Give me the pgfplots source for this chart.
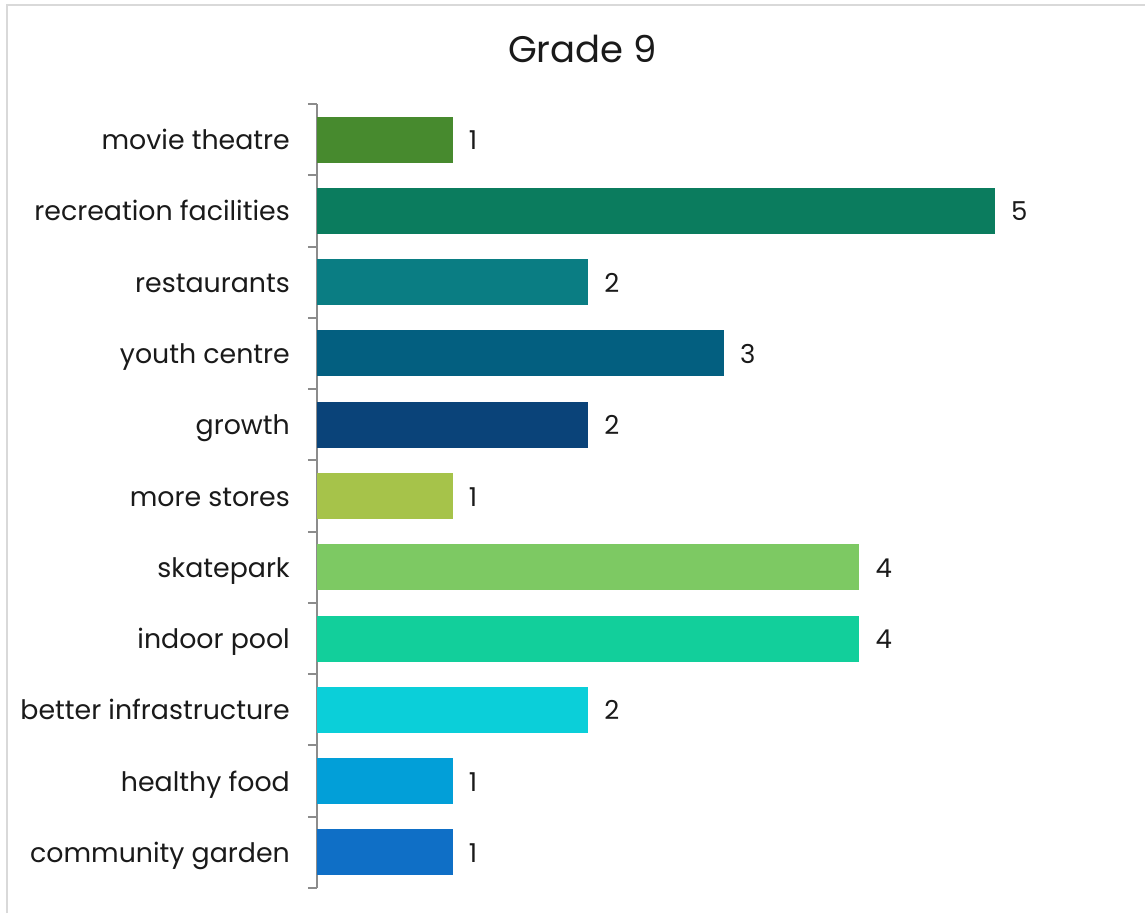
\documentclass[border=0pt]{standalone}
\usepackage{pgfplots}
\pgfplotsset{compat=1.18}
\usepackage{fontspec}
\setmainfont{Poppins}
\definecolor{c1}{HTML}{478A2E}
\definecolor{c2}{HTML}{0B7C5E}
\definecolor{c3}{HTML}{0A7D83}
\definecolor{c4}{HTML}{035F80}
\definecolor{c5}{HTML}{0A4379}
\definecolor{c6}{HTML}{A6C34A}
\definecolor{c7}{HTML}{7DC963}
\definecolor{c8}{HTML}{12CF9B}
\definecolor{c9}{HTML}{0BCFD9}
\definecolor{c10}{HTML}{029FD8}
\definecolor{c11}{HTML}{0F6FC6}
\definecolor{txt}{HTML}{1A1A1A}
\definecolor{axgray}{HTML}{8C8C8C}
\definecolor{bord}{HTML}{D9D9D9}
\begin{document}
\begin{tikzpicture}[x=1pt,y=1pt]
\useasboundingbox[fill=white] (0,0) rectangle (1145,913);
\draw[bord, line width=2pt] (6.5,0) -- (6.5,907.5) -- (1145,907.5);
\node[anchor=base, text=txt, font=\fontsize{37}{42}\selectfont, inner sep=0pt] at (582.5,850) {Grade 9};
\begin{axis}[
  at={(317pt,25pt)}, anchor=south west,
  scale only axis, width=813.6pt, height=784pt,
  xmin=0, xmax=6, ymin=-0.5, ymax=10.5,
  y dir=reverse,
  xbar, bar width=46pt, bar shift=0pt,
  axis x line=none,
  axis y line*=left,
  y axis line style={axgray, line width=2pt, -},
  ytick={0,...,10},
  yticklabels={movie theatre, recreation facilities, restaurants, youth centre, growth, more stores, {skatepark\ }, indoor pool, better infrastructure, healthy food, community garden},
  minor ytick={-0.5,0.5,...,10.5},
  major tick length=0pt,
  minor tick length=9pt,
  tick align=outside,
  minor tick style={axgray, line width=2pt},
  /pgf/number format/assume math mode=true,
  yticklabel style={anchor=base east, inner sep=0pt, xshift=-27pt, yshift=-10pt, text=txt, font=\fontsize{26.8}{30}\selectfont},
  nodes near coords,
  every node near coord/.append style={anchor=base west, inner sep=0pt, xshift=16pt, yshift=-10pt, text=txt, font=\fontsize{26}{30}\selectfont},
  clip=false,
]
\addplot[draw=none, fill=c1] coordinates {(1,0)};
\addplot[draw=none, fill=c2] coordinates {(5,1)};
\addplot[draw=none, fill=c3] coordinates {(2,2)};
\addplot[draw=none, fill=c4] coordinates {(3,3)};
\addplot[draw=none, fill=c5] coordinates {(2,4)};
\addplot[draw=none, fill=c6] coordinates {(1,5)};
\addplot[draw=none, fill=c7] coordinates {(4,6)};
\addplot[draw=none, fill=c8] coordinates {(4,7)};
\addplot[draw=none, fill=c9] coordinates {(2,8)};
\addplot[draw=none, fill=c10] coordinates {(1,9)};
\addplot[draw=none, fill=c11] coordinates {(1,10)};
\end{axis}
\end{tikzpicture}
\end{document}
